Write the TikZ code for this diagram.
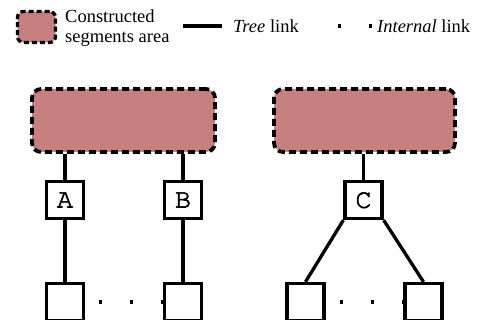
\documentclass[tikz,border=0pt]{standalone}
\usepackage[T1,TU]{fontenc}
\usepackage{fontspec}
\setmainfont{Liberation Serif}
\usetikzlibrary{positioning}
\definecolor{segarea}{RGB}{199,128,128}
\newcommand{\heavy}[1]{\special{pdf:literal direct 2 Tr 0.6 w}#1\special{pdf:literal direct 0 Tr}}
\tikzset{
	area/.style={draw, fill=segarea, rounded corners=9pt, line width=3.8pt, dash pattern=on 7pt off 4pt, minimum width=183pt, minimum height=63pt},
	seg/.style={draw, fill=white, line width=3.3pt, minimum size=37pt, inner sep=0pt, font=\fontencoding{T1}\fontfamily{pcr}\fontsize{27}{27}\selectfont},
	treelink/.style={line width=3.3pt},
	intlink/.style={line width=3.3pt, dash pattern=on 3pt off 28pt, dash phase=17pt},
	legtext/.style={inner sep=0pt, font=\fontsize{18.5}{19.5}\selectfont}
}
\begin{document}
\begin{tikzpicture}[x=1pt, y=-1pt]
	\useasboundingbox (0,0) rectangle (482,320);
	% legend
	\node[area, minimum width=38pt, minimum height=31pt, rounded corners=6pt, line width=3.3pt, dash pattern=on 5pt off 3pt] (legarea) at (36.5,27) {};
	\node[legtext, anchor=west, align=left] (legareatxt) at (65,28) {Constructed\\segments area};
	\coordinate (treeA) at (183,26);
	\coordinate (treeB) at (222,26);
	\draw[treelink] (treeA) -- (treeB);
	\node[legtext, anchor=base west] (treetxt) at (233,33) {\textit{Tree} link};
	\coordinate (intA) at (338,26);
	\coordinate (intB) at (373,26);
	\draw[intlink, dash phase=0pt] (intA) -- (intB);
	\node[legtext, anchor=base west] (inttxt) at (377,33) {\textit{Internal} link};

	% left tree
	\node[area] (areaL) at (123.5,120.5) {};
	\node[seg] (A) at (65,200) {\heavy{A}};
	\node[seg] (B) at (183,200) {\heavy{B}};
	\node[seg] (leafA) at (65,302) {};
	\node[seg] (leafB) at (183,302) {};
	\draw[treelink] (A |- areaL.south) -- (A);
	\draw[treelink] (B |- areaL.south) -- (B);
	\draw[treelink] (A) -- (leafA);
	\draw[treelink] (B) -- (leafB);
	\draw[intlink] (leafA) -- (leafB);

	% right tree
	\node[area, minimum width=181pt] (areaR) at (364.5,120.5) {};
	\node[seg] (C) at (363.5,200) {\heavy{C}};
	\node[seg] (leafC) at (305.5,302) {};
	\node[seg] (leafD) at (423.5,302) {};
	\draw[treelink] (C |- areaR.south) -- (C);
	\draw[treelink] (C.south west) -- (leafC.north);
	\draw[treelink] (C.south east) -- (leafD.north);
	\draw[intlink] (leafC) -- (leafD);
\end{tikzpicture}
\end{document}
